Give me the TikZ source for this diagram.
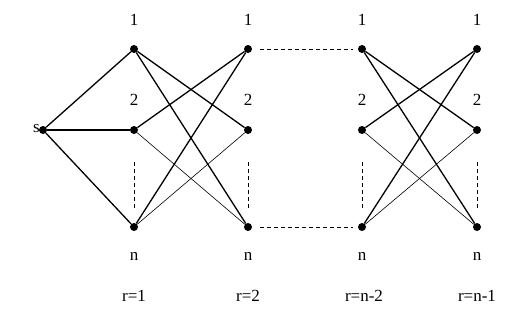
\documentclass[tikz,border=0pt]{standalone}
\usepackage{fontspec}
\setmainfont{Liberation Serif}
\begin{document}
\begin{tikzpicture}[x=1pt,y=-1pt,
  vtx/.style={circle,fill=black,inner sep=0pt,minimum size=8pt},
  lbl/.style={font=\fontsize{17}{20}\selectfont,inner sep=0pt},
  heavy/.style={line width=1.3pt},
  light/.style={line width=0.6pt},
  dots/.style={line width=0.8pt,dash pattern=on 4pt off 3pt}]
\useasboundingbox (0,0) rectangle (529,316);
\node[vtx] (s) at (43,130) {};
\node[lbl,anchor=east] (sl) at (40,129) {s};
\foreach \c/\x in {a/134,b/248,c/362,d/477}{
  \node[vtx] (\c1) at (\x,49) {};
  \node[vtx] (\c2) at (\x,130) {};
  \node[vtx] (\c3) at (\x,227) {};
  \node[lbl] (\c l1) at (\x,20) {1};
  \node[lbl] (\c l2) at (\x,100) {2};
  \node[lbl] (\c ln) at (\x,256) {n};
  \coordinate (\c t) at (\x,162);
  \coordinate (\c b) at (\x,210);
  \draw[dots] (\c t) -- (\c b);
}
\node[lbl] (r1) at (134,296) {r=1};
\node[lbl] (r2) at (248,296) {r=2};
\node[lbl] (r3) at (364,296) {r=n-2};
\node[lbl] (r4) at (477,296) {r=n-1};
\draw[heavy] (s) -- (a1);
\draw[heavy] (s) -- (a2);
\draw[heavy] (s) -- (a3);
\foreach \p/\q in {a/b,c/d}{
  \draw[heavy] (\p1) -- (\q2);
  \draw[heavy] (\p1) -- (\q3);
  \draw[heavy] (\p2) -- (\q1);
  \draw[light] (\p2) -- (\q3);
  \draw[heavy] (\p3) -- (\q1);
  \draw[light] (\p3) -- (\q2);
}
\draw[dots,shorten <=8pt,shorten >=5pt] (b1) -- (c1);
\draw[dots,shorten <=8pt,shorten >=5pt] (b3) -- (c3);
\end{tikzpicture}
\end{document}
